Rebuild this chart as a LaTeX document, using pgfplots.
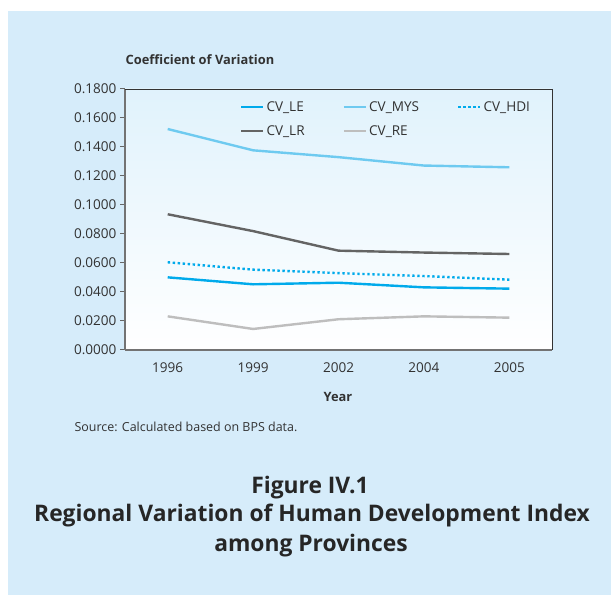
\documentclass[border=0pt]{standalone}
\usepackage{fontspec}
\setmainfont{Open Sans}
\usepackage{pgfplots}
\pgfplotsset{compat=1.18}
\definecolor{bgblue}{RGB}{214,236,250}
\definecolor{plottop}{RGB}{224,242,252}
\definecolor{cvle}{RGB}{0,170,235}
\definecolor{cvmys}{RGB}{110,202,240}
\definecolor{cvlr}{RGB}{100,100,100}
\definecolor{cvre}{RGB}{190,190,190}
\definecolor{txt}{RGB}{50,50,50}
\begin{document}
\begin{tikzpicture}[x=1bp,y=1bp]
\fill[white] (0,0) rectangle (611,595);
\fill[bgblue] (8,0) rectangle (611,584);
\begin{axis}[
  at={(125bp,245bp)}, anchor=south west,
  width=427bp, height=261bp, scale only axis,
  axis background/.style={top color=plottop, bottom color=white},
  axis lines=left,
  axis line style={draw=black!55, line width=1.6bp, -},
  xmin=-0.5, xmax=4.5, ymin=0, ymax=0.18,
  xtick={0,1,2,3,4},
  xticklabels={1996,1999,2002,2004,2005},
  major x tick style={draw=none},
  extra x ticks={-0.5,0.5,1.5,2.5,3.5,4.5},
  extra x tick labels={},
  extra x tick style={major tick length=5bp, tick style={draw=black!60, line width=1bp}},
  ytick={0,0.02,...,0.181},
  yticklabel style={/pgf/number format/.cd, fixed, fixed zerofill, precision=4},
  scaled y ticks=false,
  /pgf/number format/assume math mode=true,
  tick align=outside,
  major tick length=5bp,
  tick style={draw=black!60, line width=1bp},
  ticklabel style={font=\fontsize{13.6}{15}\selectfont, text=txt},
  xticklabel style={yshift=-4bp},
  legend columns=3,
  legend style={draw=none, fill=none, at={(0.262,0.968)}, anchor=north west,
    font=\fontsize{13.6}{15}\selectfont, text=txt,
    /tikz/every even column/.append style={column sep=36bp},
    row sep=8.5bp},
  legend cell align=left,
  legend image post style={xscale=1.3},
  clip=false,
]
\addplot[cvle, line width=2.4bp] coordinates {(0,0.0501) (1,0.0453) (2,0.0464) (3,0.0432) (4,0.0423)};
\addlegendentry{CV\_LE}
\addplot[cvmys, line width=2.4bp] coordinates {(0,0.1524) (1,0.1377) (2,0.1330) (3,0.1272) (4,0.1260)};
\addlegendentry{CV\_MYS}
\addplot[cvle, line width=2.4bp, dash pattern=on 2.4bp off 2.6bp] coordinates {(0,0.0605) (1,0.0554) (2,0.0530) (3,0.0510) (4,0.0485)};
\addlegendentry{CV\_HDI}
\addplot[cvlr, line width=2.4bp] coordinates {(0,0.0936) (1,0.0820) (2,0.0685) (3,0.0672) (4,0.0662)};
\addlegendentry{CV\_LR}
\addplot[cvre, line width=2.4bp] coordinates {(0,0.0232) (1,0.0145) (2,0.0212) (3,0.0232) (4,0.0223)};
\addlegendentry{CV\_RE}
\draw[black!80, line width=0.8bp] (rel axis cs:0,1) -- (rel axis cs:1,1) -- (rel axis cs:1,0);
\end{axis}
\node[font=\bfseries\fontsize{12.9}{15}\selectfont, text=txt] at (200,535) {Coefficient of Variation};
\node[font=\bfseries\fontsize{12.9}{15}\selectfont, text=txt] at (338,198) {Year};
\node[anchor=west, font=\fontsize{12.5}{14}\selectfont, text=txt] at (71,168) {Source: Calculated based on BPS data.};
\node[font=\bfseries\fontsize{22.9}{27}\selectfont, text=black!85, align=center] at (310,107) {Figure IV.1};
\node[font=\bfseries\fontsize{22.9}{27}\selectfont, text=black!85, align=center] at (312,79) {Regional Variation of Human Development Index};
\node[font=\bfseries\fontsize{22.9}{27}\selectfont, text=black!85, align=center] at (311,49) {among Provinces};
\end{tikzpicture}
\end{document}
